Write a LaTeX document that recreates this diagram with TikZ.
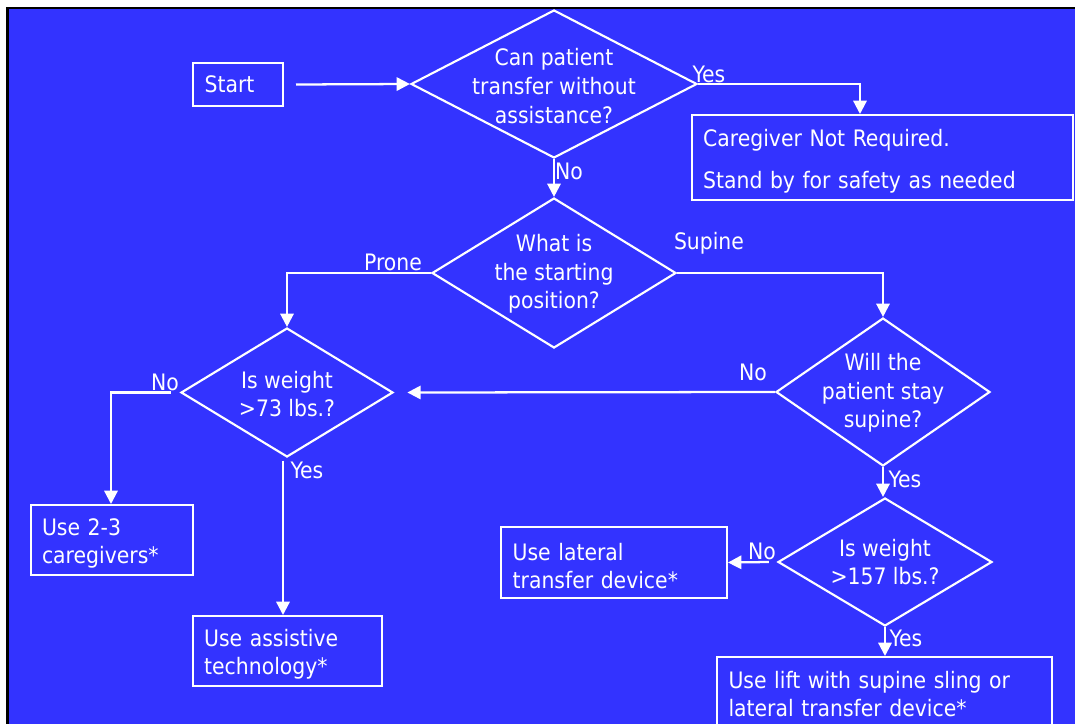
\documentclass[tikz,border=0pt]{standalone}
\usepackage{fontspec}
\setmainfont{DejaVu Sans Condensed}
\usetikzlibrary{shapes.geometric,arrows.meta}
\definecolor{slideblue}{HTML}{3333FF}
% tall strut that drops the first line of a box a little
\newcommand\firstline{\rule{0pt}{18pt}}
\begin{document}
\begin{tikzpicture}[x=0.75pt,y=-0.75pt,
  every node/.style={text=white, font=\fontsize{17}{21.5}\selectfont},
  flow/.style={draw=white, line width=1.7pt},
  arr/.style={flow, -{Triangle[length=10pt,width=10pt]}},
  box/.style={draw=white, line width=1.5pt, inner sep=0pt, align=left},
  dia/.style={draw=white, line width=1.6pt, diamond, inner sep=0pt},
  qtext/.style={inner sep=0pt, align=center},
  lbl/.style={inner sep=0pt}
]
\useasboundingbox (0,0) rectangle (1075,724);
% slide frame and background
\fill[white] (0,0) rectangle (1075,724);
\fill[black] (6,7) rectangle (1075,9.5);
\fill[black] (6,7) rectangle (8.5,724);
\fill[slideblue] (8.5,9.5) rectangle (1075,724);

% process boxes
\node[box, minimum width=67.5pt, minimum height=32.25pt, text width=50pt] (start) at (238,84.5) {Start};
\node[box, minimum width=285.75pt, minimum height=63.75pt, text width=269pt] (care) at (882.5,157.5)
  {\firstline Caregiver Not Required.\\[10pt]Stand by for safety as needed};
\node[box, minimum width=121.5pt, minimum height=52.5pt, text width=105pt] (two3) at (112,540)
  {\firstline Use 2-3\\caregivers*};
\node[box, minimum width=141.75pt, minimum height=52.5pt, text width=125pt] (assist) at (287.5,651)
  {\firstline Use assistive\\technology*};
\node[box, minimum width=169.5pt, minimum height=53.25pt, text width=152pt] (lateral) at (614,562.5)
  {\firstline Use lateral\\transfer device*};
\node[box, minimum width=251.25pt, minimum height=55.5pt, text width=234pt] (lift) at (884.5,694)
  {Use lift with supine sling or\\lateral transfer device*};

% decision diamonds
\node[dia, minimum width=214.5pt, minimum height=111pt] (d1) at (554,84) {};
\node[qtext] (t1) at (554,86) {Can patient\\transfer without\\assistance?};
\node[dia, minimum width=183pt, minimum height=112.5pt] (d2) at (554,273) {};
\node[qtext] (t2) at (554,274) {What is\\the starting\\position?};
\node[dia, minimum width=159pt, minimum height=96.75pt] (d3) at (287,392.5) {};
\node[qtext] (t3) at (287,394) {Is weight\\>73 lbs.?};
\node[dia, minimum width=160.5pt, minimum height=111pt] (d4) at (883,392) {};
\node[qtext] (t4) at (883,393) {Will the\\patient stay\\supine?};
\node[dia, minimum width=160.5pt, minimum height=96pt] (d5) at (885,562) {};
\node[qtext] (t5) at (885,562) {Is weight\\>157 lbs.?};

% connectors
\draw[arr] ([xshift=9pt]start.east) -- (d1.west);
\draw[arr] (d1.east) -| (care.north -| 860,0);
\draw[arr] (d1.south) -- (d2.north);
\draw[arr] (d2.west) -| (d3.north);
\draw[arr] (d2.east) -| (d4.north);
\draw[arr] (d4.west) -- ([xshift=10pt]d3.east);
\draw[arr] ([xshift=-7pt]d3.west) -| (two3.north -| 111,0);
\draw[arr] ([yshift=-2pt]d3.south -| 283,0) -- (assist.north -| 283,0);
\draw[arr] (d4.south) -- (d5.north -| d4.south);
\draw[arr] ([xshift=-6pt]d5.west) -- (lateral.east);
\draw[arr] (d5.south) -- (lift.north -| d5.south);

% branch labels
\node[lbl] (y1) at (709,74) {Yes};
\node[lbl] (n1) at (569,171) {No};
\node[lbl] (pr) at (393,262) {Prone};
\node[lbl] (su) at (709,243) {Supine};
\node[lbl] (n4) at (753,372) {No};
\node[lbl] (n3) at (165,382) {No};
\node[lbl] (y3) at (307,470) {Yes};
\node[lbl] (y4) at (905,479) {Yes};
\node[lbl] (n5) at (762,551) {No};
\node[lbl] (y5) at (906,638) {Yes};
\end{tikzpicture}
\end{document}
